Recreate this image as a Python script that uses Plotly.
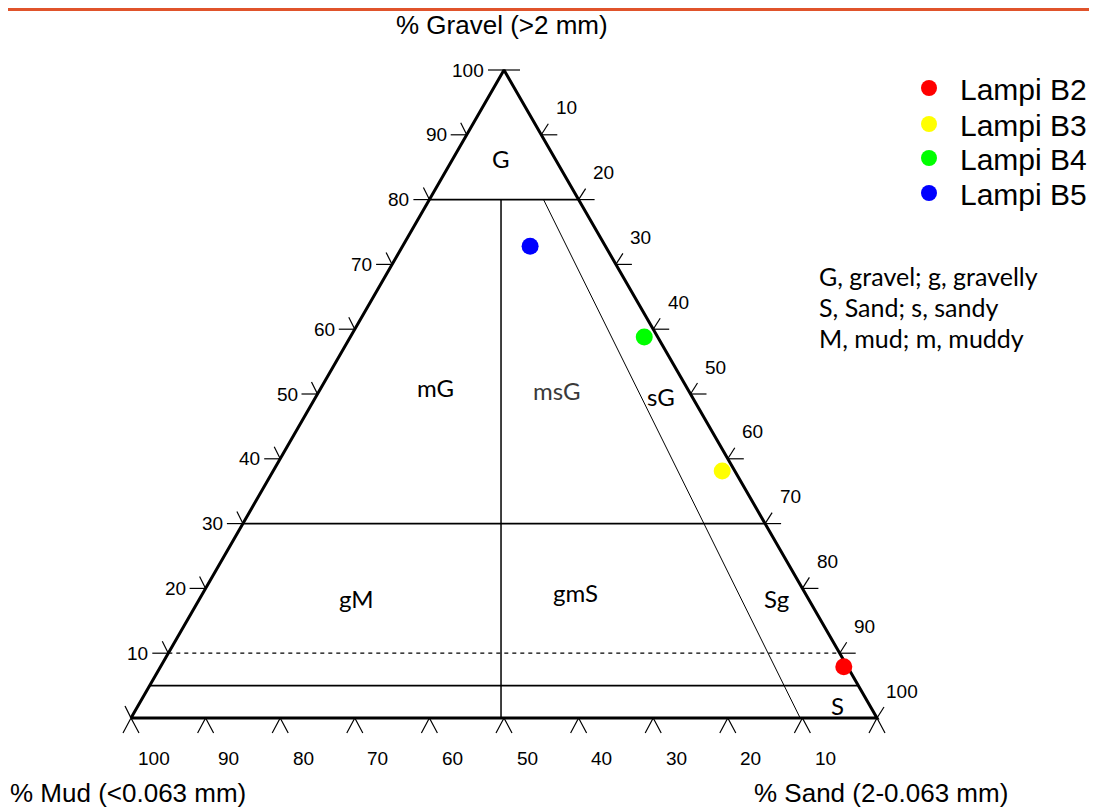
import plotly.graph_objects as go

# ---------------- data (percent) ----------------
samples = ["Lampi B2", "Lampi B3", "Lampi B4", "Lampi B5"]
gravel = [7.9, 38.1, 58.8, 72.8]
sand = [91.6, 60.2, 39.4, 17.1]
mud = [0.5, 1.7, 1.8, 10.1]
sample_colors = ["#ff0000", "#ffff00", "#00ff00", "#0000ff"]

# Folk class boundaries (gravel levels, %)
solid_gravel_levels = [80, 30, 5]
dashed_gravel_levels = [10]
# mud:sand 1:1 divider, from gravel 80 down to gravel 0
mid_line_gravel = [80, 0]
mid_line_sand = [9.6, 49.6]
# sandy divider, from gravel 80 down to gravel 0
sandy_line_gravel = [80, 0]
sandy_line_sand = [15.3, 89.7]

tick_values = [0, 10, 20, 30, 40, 50, 60, 70, 80, 90, 100]
region_labels = ["G", "mG", "msG", "sG", "gM", "gmS", "Sg", "S"]
legend_note = ["G, gravel; g, gravelly", "S, Sand; s, sandy", "M, mud; m, muddy"]

# ---------------- geometry ----------------
PAGE_OFF = 8                      # page body margin of the browser
W, H_PX = 1097 - PAGE_OFF, 809 - PAGE_OFF
K = 7.46                          # pixels per percent unit
X0_PX, Y0_PX = 131 - PAGE_OFF, 718 - PAGE_OFF   # 100 % mud vertex
HF = 648 / 746                    # triangle height / width


def txy(g, s):
    """ternary (gravel, sand) -> cartesian data units"""
    return s + g / 2.0, g * HF


def px(u):
    return u / K


def paper(xp, yp):
    """screen pixel -> paper coords"""
    return (xp - PAGE_OFF) / W, 1 - (yp - PAGE_OFF) / H_PX


fig = go.Figure()


def add_line(xs, ys, width, dash="solid", color="black"):
    fig.add_trace(go.Scatter(x=xs, y=ys, mode="lines", showlegend=False,
                             hoverinfo="skip",
                             line=dict(color=color, width=width, dash=dash)))


for g in solid_gravel_levels:
    xa, ya = txy(g, 0)
    xb, yb = txy(g, 100 - g)
    add_line([xa, xb], [ya, yb], 1.6)
for g in dashed_gravel_levels:
    xa, ya = txy(g, 0)
    xb, yb = txy(g, 100 - g)
    add_line([xa, xb], [ya, yb], 1.2, dash="4px,4px")

mx, my = zip(*[txy(g, s) for g, s in zip(mid_line_gravel, mid_line_sand)])
add_line(list(mx), list(my), 1.5)
sx, sy = zip(*[txy(g, s) for g, s in zip(sandy_line_gravel, sandy_line_sand)])
add_line(list(sx), list(sy), 1.0)

# triangle frame
fx, fy = zip(*[txy(0, 0), txy(100, 0), txy(0, 100), txy(0, 0)])
add_line(list(fx), list(fy), 3)

# ticks
DASH = px(16)
tx, ty = [], []
for g in tick_values:                       # left edge (gravel)
    x, y = txy(g, 0)
    if g > 0:
        tx += [x - DASH, x, None]
        ty += [y, y, None]
    if g < 100:
        tx += [x, x - px(6), None]
        ty += [y, y + px(12), None]
for s in tick_values:                       # right edge (sand)
    x, y = txy(100 - s, s)
    if s < 100:
        tx += [x, x + DASH, None]
        ty += [y, y, None]
    if s > 0:
        tx += [x, x + px(7), None]
        ty += [y, y + px(11), None]
for m in tick_values:                       # bottom edge (mud)
    x, y = txy(0, 100 - m)
    tx += [x - px(8), x, x + px(8), None]
    ty += [y - px(15), y, y - px(15), None]
add_line(tx, ty, 1.2)

# samples, each in its own legend box
legend_y = [88, 124, 158, 193]
legends = {}
for i, (name, g, s, c) in enumerate(zip(samples, gravel, sand, sample_colors)):
    x, y = txy(g, s)
    key = "legend" if i == 0 else f"legend{i + 1}"
    fig.add_trace(go.Scatter(x=[x], y=[y], mode="markers", name=name,
                             legend=key,
                             marker=dict(color=c, size=17, line=dict(width=0))))
    lx, ly = paper(898, legend_y[i])
    legends[key] = dict(x=lx, y=ly, xanchor="left", yanchor="middle",
                        font=dict(family="Liberation Sans, Arial", size=30,
                                  color="black"),
                        bgcolor="rgba(0,0,0,0)", itemwidth=52, borderwidth=0)

annotations = []
TF = dict(family="Liberation Sans, Arial", size=19, color="black")
for g in tick_values[1:]:
    x, y = txy(g, 0)
    annotations.append(dict(x=x - DASH, y=y, xref="x", yref="y", text=str(g),
                            showarrow=False, xanchor="right", yanchor="middle",
                            xshift=-2, font=TF))
for s in tick_values[1:]:
    x, y = txy(100 - s, s)
    annotations.append(dict(x=x, y=y, xref="x", yref="y", text=str(s),
                            showarrow=False, xanchor="center", yanchor="middle",
                            xshift=25, yshift=27, font=TF))
for m in tick_values[1:]:
    x, y = txy(0, 100 - m)
    annotations.append(dict(x=x, y=y, xref="x", yref="y", text=str(m),
                            showarrow=False, xanchor="center", yanchor="middle",
                            xshift=23, yshift=-40, font=TF))

# region labels
RF = dict(family="Lato, Carlito, Calibri", size=24, color="black")
region_pos = [(501, 158), (435, 387), (556, 390), (661, 396),
              (356, 598), (575, 592), (776, 598), (837, 705)]
for lab, (xp, yp) in zip(region_labels, region_pos):
    xx, yy = paper(xp, yp)
    f = dict(RF)
    if lab == "msG":
        f["color"] = "#3a3a3a"
    annotations.append(dict(x=xx, y=yy, xref="paper", yref="paper", text=lab,
                            showarrow=False, xanchor="center", yanchor="middle",
                            font=f))

# note text
for i, line in enumerate(legend_note):
    xx, yy = paper(817, 276 + 31 * i)
    annotations.append(dict(x=xx, y=yy, xref="paper", yref="paper", text=line,
                            showarrow=False, xanchor="left", yanchor="middle",
                            font=dict(family="Lato, Carlito, Calibri", size=25,
                                      color="black")))

# axis titles
AF = dict(family="Liberation Sans, Arial", size=26, color="black")
for text, (xp, yp), anc in [("% Gravel (>2 mm)", (502, 25), "center"),
                            ("% Mud (<0.063 mm)", (8, 793), "left"),
                            ("% Sand (2-0.063 mm)", (752, 793), "left")]:
    xx, yy = paper(xp, yp)
    annotations.append(dict(x=xx, y=yy, xref="paper", yref="paper", text=text,
                            showarrow=False, xanchor=anc, yanchor="middle",
                            font=AF))

fig.update_layout(
    width=W, height=H_PX,
    margin=dict(l=0, r=0, t=0, b=0),
    paper_bgcolor="white", plot_bgcolor="white",
    xaxis=dict(visible=False, range=[-X0_PX / K, (W - X0_PX) / K], fixedrange=True),
    yaxis=dict(visible=False, range=[-(H_PX - Y0_PX) / K, Y0_PX / K], fixedrange=True),
    showlegend=True,
    annotations=annotations,
    shapes=[dict(type="line", xref="paper", yref="paper", x0=0, x1=1,
                 y0=1 - 1.5 / H_PX, y1=1 - 1.5 / H_PX,
                 line=dict(color="#e0532b", width=3))],
    **legends,
)

fig.write_html("out.html")
